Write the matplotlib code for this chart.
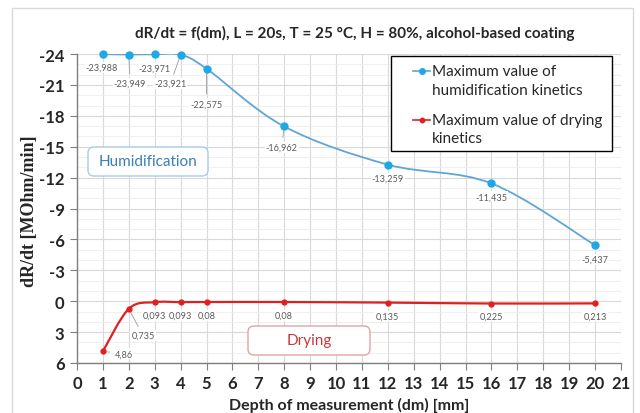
import matplotlib
matplotlib.use("Agg")
import matplotlib.pyplot as plt
from matplotlib.path import Path
from matplotlib.patches import PathPatch, FancyBboxPatch, Rectangle
from matplotlib.lines import Line2D
import numpy as np

# ---- data ----
depth = [1, 2, 3, 4, 5, 8, 12, 16, 20]
humidification = [-23.988, -23.949, -23.971, -23.921, -22.575, -16.962, -13.259, -11.435, -5.437]
drying = [4.86, 0.735, 0.093, 0.093, 0.08, 0.08, 0.135, 0.225, 0.213]
x_ticks = list(range(0, 22))
y_ticks = [-24, -21, -18, -15, -12, -9, -6, -3, 0, 3, 6]
title = "dR/dt = f(dm), L = 20s, T = 25 \u00b0C, H = 80%, alcohol-based coating"
x_label = "Depth of measurement (dm) [mm]"
y_label = "dR/dt [MOhm/min]"
legend_labels = [["Maximum value of", "humidification kinetics"],
                 ["Maximum value of drying", "kinetics"]]

# ---- styles / layout ----
BLUE_LINE = "#5fa6d6"
BLUE_MK = "#1ea8e6"
RED = "#e02020"
LABEL_C = "#595959"

# label offsets (dx, dy) in data units and whether a leader line is drawn
hum_offsets = [(-0.05, 1.3, False), (0.05, 2.8, True), (0.0, 1.3, False), (-0.4, 2.8, True),
               (0.0, 3.4, True), (-0.1, 2.0, True), (0.0, 1.3, False), (0.0, 1.3, False), (0.0, 1.35, False)]
dry_offsets = [(0.8, 0.25, True), (0.55, 2.6, True), (0.0, 1.3, False), (0.0, 1.3, False),
               (0.0, 1.3, False), (0.0, 1.3, False), (0.0, 1.3, False), (0.0, 1.2, False), (0.0, 1.2, False)]

plt.rcParams['font.family'] = ['Lato', 'DejaVu Sans']

W, H = 640, 414
fig = plt.figure(figsize=(6.4, 4.14), dpi=100)
ax = fig.add_axes([77/W, 1-364/H, (621-77)/W, (364-55)/H])

# outer chart border
fig.patches.append(Rectangle((12/W, -0.01), (633-12)/W, 1-9/H+0.01,
                             transform=fig.transFigure, fill=False,
                             edgecolor="#d9d9d9", linewidth=1.0))


def smooth_path(xs, ys):
    pts = np.column_stack([xs, ys]).astype(float)
    n = len(pts)
    verts = [pts[0]]
    codes = [Path.MOVETO]
    for i in range(n - 1):
        p0 = pts[i - 1] if i > 0 else pts[i]
        p1 = pts[i]
        p2 = pts[i + 1]
        p3 = pts[i + 2] if i + 2 < n else pts[i + 1]
        c1 = p1 + (p2 - p0) / 6.0
        c2 = p2 - (p3 - p1) / 6.0
        verts += [c1, c2, p2]
        codes += [Path.CURVE4] * 3
    return Path(verts, codes)


ax.add_patch(PathPatch(smooth_path(depth, humidification), facecolor="none",
                       edgecolor=BLUE_LINE, linewidth=1.3, zorder=3))
ax.add_patch(PathPatch(smooth_path(depth, drying), facecolor="none",
                       edgecolor=RED, linewidth=1.6, zorder=3))
ax.plot(depth, humidification, linestyle="none", marker="o", markersize=5,
        color=BLUE_MK, zorder=5, clip_on=False)
ax.plot(depth, drying, linestyle="none", marker="o", markersize=3.5,
        color=RED, zorder=5, clip_on=False)


def fmt(v):
    return f"{v:g}".replace(".", ",")


def put_labels(xs, ys, offs):
    for x, y, (dx, dy, lead) in zip(xs, ys, offs):
        kw = dict(ha="center", va="center", fontsize=6.6, color=LABEL_C, zorder=4,
                  bbox=dict(boxstyle="square,pad=0.1", fc="white", ec="none"))
        if lead:
            ax.annotate(fmt(y), xy=(x, y), xytext=(x + dx, y + dy),
                        arrowprops=dict(arrowstyle="-", color="#a6a6a6", lw=0.7,
                                        shrinkA=3, shrinkB=3), **kw)
        else:
            ax.text(x + dx, y + dy, fmt(y), **kw)


put_labels(depth, humidification, hum_offsets)
put_labels(depth, drying, dry_offsets)

# axes
ax.set_xlim(0, 21)
ax.set_ylim(6, -24)
ax.set_xticks(x_ticks)
ax.set_yticks(y_ticks)
ax.set_yticks(np.arange(-24, 7, 1), minor=True)
ax.set_xticklabels([str(t) for t in x_ticks], fontsize=12, fontweight="bold")
ax.set_yticklabels([str(t) for t in y_ticks], fontsize=12, fontweight="bold")
ax.grid(True, which="major", color="#d9d9d9", linewidth=0.8)
ax.grid(True, which="minor", axis="y", color="#ececec", linewidth=0.6)
ax.set_axisbelow(True)
for s in ["top", "right"]:
    ax.spines[s].set_visible(False)
for s in ["left", "bottom"]:
    ax.spines[s].set_color("#7f7f7f")
    ax.spines[s].set_linewidth(1.0)
ax.tick_params(axis="both", which="major", direction="out", length=5,
               color="#7f7f7f", pad=4)
ax.tick_params(axis="y", which="minor", length=0)
for t in ax.get_xticklabels() + ax.get_yticklabels():
    t.set_color("#262626")

fig.text(355/W, 1-33/H, title, ha="center", va="center",
         fontsize=11, fontweight="bold", color="#262626")
fig.text(349/W, 1-405/H, x_label, ha="center", va="center",
         fontsize=11.5, fontweight="bold", color="#262626")
fig.text(30/W, 1-211/H, y_label, ha="center", va="center", rotation=90,
         fontsize=13, fontweight="bold", color="#262626",
         family=["Liberation Serif", "DejaVu Serif"])

# legend (drawn by hand so handles align with the first text line)
fig.patches.append(Rectangle((391/W, 1-152/H), (612-391)/W, (152-57)/H,
                             transform=fig.transFigure, facecolor="white",
                             edgecolor="black", linewidth=1.0, zorder=10))
entries = [(BLUE_LINE, BLUE_MK, 4.0, [72, 91]), (RED, RED, 3.2, [121, 139])]
for (lc, mc, ms, ys), lines in zip(entries, legend_labels):
    fig.add_artist(Line2D([413/W, 430/W], [1-ys[0]/H]*2, color=lc, linewidth=1.2,
                          transform=fig.transFigure, zorder=11))
    fig.add_artist(Line2D([421.5/W], [1-ys[0]/H], color=mc, marker="o", markersize=ms,
                          linestyle="none", transform=fig.transFigure, zorder=12))
    for yy, txt in zip(ys, lines):
        fig.text(432/W, 1-yy/H, txt, ha="left", va="center", fontsize=11,
                 color="#262626", zorder=12)

# annotation boxes
def tag(x0, y0, x1, y1, text, tc, ec):
    w = (x1 - x0) / 100
    h = (y1 - y0) / 100
    box = FancyBboxPatch((x0 / 100, (H - y1) / 100), w, h,
                         boxstyle="round,pad=0,rounding_size=0.06",
                         transform=fig.dpi_scale_trans, facecolor="white",
                         edgecolor=ec, linewidth=1.0, zorder=6)
    fig.patches.append(box)
    fig.text((x0 + x1) / 2 / W, 1 - (y0 + y1) / 2 / H, text, ha="center",
             va="center", fontsize=11, color=tc, zorder=7)

tag(88, 148, 208, 177, "Humidification", "#3a7fb8", "#a9cbe4")
tag(248, 327, 370, 356, "Drying", "#c8383a", "#e2a4a4")

fig.savefig("out.png", dpi=100)
